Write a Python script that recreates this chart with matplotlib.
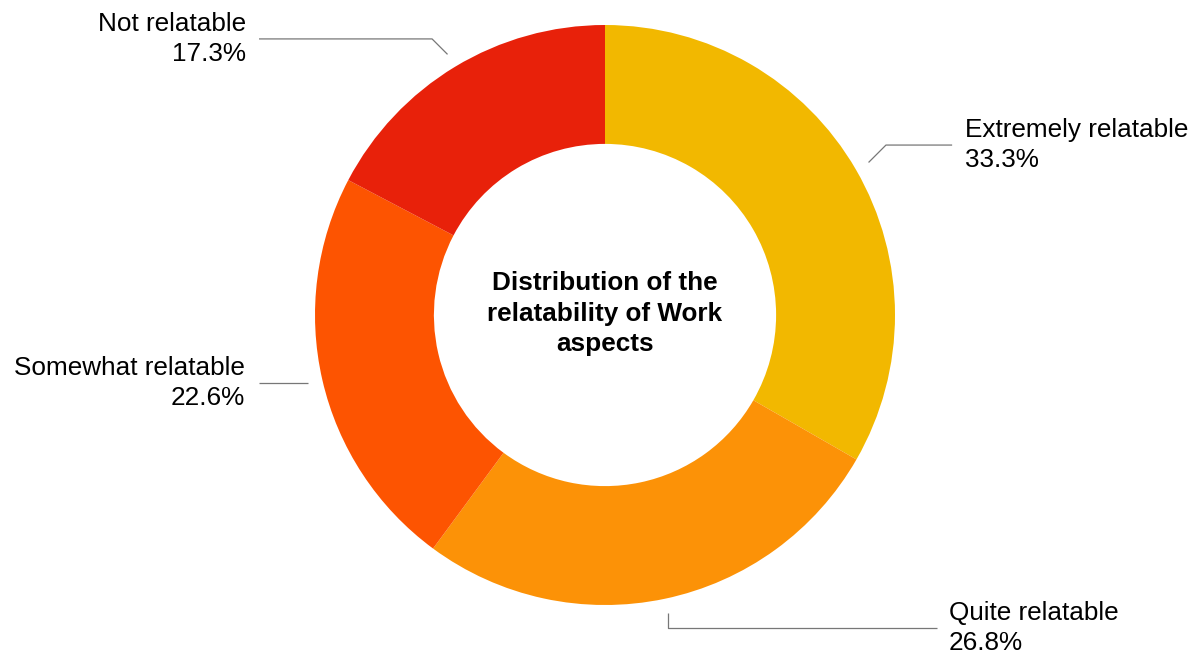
import numpy as np
import matplotlib
matplotlib.use('Agg')
import matplotlib.pyplot as plt

plt.rcParams['font.family'] = ['Liberation Sans', 'DejaVu Sans']

# relatability shares of Work aspects, clockwise from 12 o'clock
categories = ['Extremely relatable', 'Quite relatable', 'Somewhat relatable', 'Not relatable']
shares = [33.3, 26.8, 22.6, 17.3]
colors = ['#F2B800', '#FC9207', '#FD5401', '#E8210A']

# label placement: text anchor, elbow and end of the leader line (pie units)
label_pos = {
    'Extremely relatable': dict(text=(1.241, 0.586), end_x=1.197, ha='left', bend='diag'),
    'Quite relatable': dict(text=(1.186, -1.079), end_x=1.145, ha='left', bend='vert'),
    'Somewhat relatable': dict(text=(-1.241, -0.234), end_x=-1.193, ha='right', bend='none'),
    'Not relatable': dict(text=(-1.238, 0.952), end_x=-1.193, ha='right', bend='diag'),
}

fig = plt.figure(figsize=(12, 6.57), dpi=100)
ax = fig.add_axes([0, 0, 1, 1])

wedges, _ = ax.pie(shares, colors=colors, startangle=90, counterclock=False,
                   radius=1.0, wedgeprops=dict(width=0.41, linewidth=0))

for w, name, val in zip(wedges, categories, shares):
    pos = label_pos[name]
    mid = np.deg2rad((w.theta1 + w.theta2) / 2)
    x0, y0 = 1.05 * np.cos(mid), 1.05 * np.sin(mid)
    ty = pos['text'][1]
    if pos['bend'] == 'diag':
        dy = ty - y0
        xe = x0 + np.sign(np.cos(mid)) * abs(dy)
        xs, ys = [x0, xe, pos['end_x']], [y0, ty, ty]
    elif pos['bend'] == 'vert':
        xs, ys = [x0, x0, pos['end_x']], [y0, ty, ty]
    else:
        xs, ys = [x0, pos['end_x']], [ty, ty]
    ax.plot(xs, ys, color='#777777', lw=0.9, solid_capstyle='butt')
    ax.text(pos['text'][0], ty, f'{name}\n{val:.1f}%', ha=pos['ha'], va='center',
            multialignment=pos['ha'], fontsize=18.8, color='#000000', linespacing=1.3)

ax.text(0, 0.005, 'Distribution of the\nrelatability of Work\naspects', ha='center', va='center',
        fontsize=18.8, fontweight='bold', color='#000000', linespacing=1.33)

ax.set_xlim(-605 / 290, 595 / 290)
ax.set_ylim(-342 / 290, 315 / 290)
ax.set_aspect('equal')
ax.axis('off')

fig.savefig('out.png', dpi=100, facecolor='white')
